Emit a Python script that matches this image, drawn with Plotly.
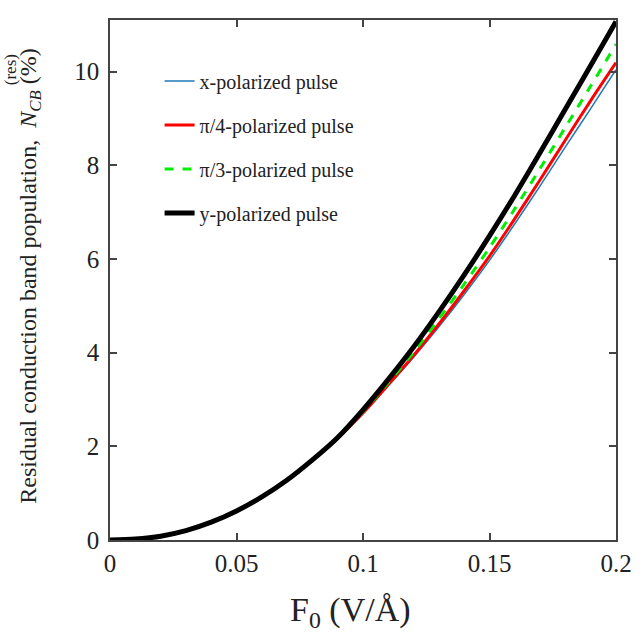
import plotly.graph_objects as go

F0 = [0.00, 0.01, 0.02, 0.03, 0.04, 0.05, 0.06, 0.07, 0.08, 0.09, 0.10,
      0.11, 0.12, 0.13, 0.14, 0.15, 0.16, 0.17, 0.18, 0.19, 0.20]

x_pol = [0.00, 0.02, 0.08, 0.20, 0.38, 0.62, 0.92, 1.28, 1.70, 2.17, 2.70,
         3.29, 3.90, 4.55, 5.24, 5.97, 6.75, 7.56, 8.39, 9.21, 10.04]
pi4_pol = [0.00, 0.02, 0.08, 0.20, 0.38, 0.62, 0.92, 1.28, 1.70, 2.17, 2.71,
           3.32, 3.94, 4.61, 5.32, 6.06, 6.86, 7.69, 8.54, 9.38, 10.19]
pi3_pol = [0.00, 0.02, 0.08, 0.20, 0.38, 0.62, 0.92, 1.28, 1.70, 2.18, 2.74,
           3.36, 4.01, 4.72, 5.46, 6.24, 7.07, 7.93, 8.81, 9.69, 10.58]
y_pol = [0.00, 0.02, 0.08, 0.20, 0.38, 0.62, 0.92, 1.28, 1.71, 2.19, 2.78,
         3.43, 4.12, 4.87, 5.66, 6.49, 7.36, 8.27, 9.20, 10.13, 11.07]

names = ["x-polarized pulse", "\u03c0/4-polarized pulse",
         "\u03c0/3-polarized pulse", "y-polarized pulse"]
series = [x_pol, pi4_pol, pi3_pol, y_pol]
colors = ["#1f77b4", "#ff0000", "#00ee00", "#000000"]
widths = [1.5, 3, 3, 5]
dashes = ["solid", "solid", "dash", "solid"]

x_ticks = [0, 0.05, 0.1, 0.15, 0.2]
x_ticklabels = ["0", "0.05", "0.1", "0.15", "0.2"]
y_ticks = [0, 2, 4, 6, 8, 10]

FONT = "Liberation Serif, Times New Roman, serif"
TXT = "#222222"

fig = go.Figure()
for i, (n, s, c, w, d) in enumerate(zip(names, series, colors, widths, dashes)):
    fig.add_trace(go.Scatter(x=F0, y=s, mode="lines", name=n,
                             legendgroup=f"g{i}",
                             line=dict(color=c, width=w, dash=d, shape="spline", smoothing=0.8)))

axis_common = dict(showline=True, linecolor="#444444", linewidth=1.5, mirror="ticks",
                   ticks="inside", ticklen=7, tickwidth=1.5, tickcolor="#444444",
                   showgrid=False, zeroline=False,
                   tickfont=dict(family=FONT, size=25, color=TXT))

fig.update_layout(
    width=644, height=640,
    margin=dict(l=110, r=19, t=20, b=100),
    paper_bgcolor="white", plot_bgcolor="white",
    font=dict(family=FONT, color=TXT),
    xaxis=dict(range=[0, 0.2], tickvals=x_ticks, ticktext=x_ticklabels, **axis_common),
    yaxis=dict(range=[0, 11.1], tickvals=y_ticks, ticklabelstandoff=4, **axis_common),
    showlegend=True,
    legend=dict(x=0.098, y=0.92, xanchor="left", yanchor="top",
                bgcolor="rgba(0,0,0,0)", tracegroupgap=15,
                font=dict(family=FONT, size=20, color=TXT)),
    annotations=[
        dict(text="F<sub>0</sub> (V/\u00c5)", xref="paper", yref="paper",
             x=0.476, y=-0.138, xanchor="center", yanchor="middle", showarrow=False,
             font=dict(family=FONT, size=34, color=TXT)),
        dict(text="Residual conduction band population,  <i>N</i><sub><i>CB</i></sub> (%)",
             xref="paper", yref="paper", x=-0.157, y=0.066, xanchor="center", yanchor="bottom",
             textangle=-90, showarrow=False,
             font=dict(family=FONT, size=24, color=TXT)),
        dict(text="(res)", xref="paper", yref="paper", x=-0.196, y=0.905,
             xanchor="center", yanchor="middle", textangle=-90, showarrow=False,
             font=dict(family=FONT, size=17, color=TXT)),
    ],
)

fig.write_html("out.html")
